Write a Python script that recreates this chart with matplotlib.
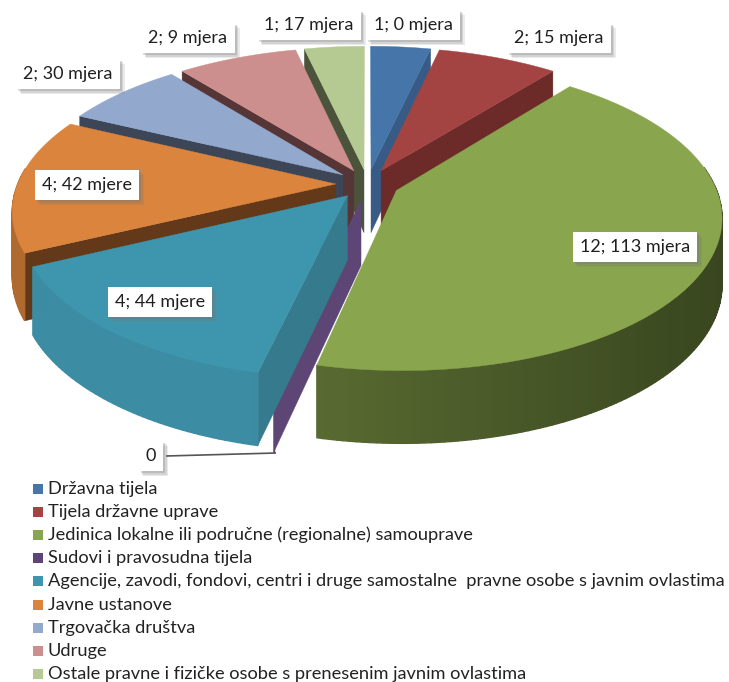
import numpy as np
import matplotlib
matplotlib.use('Agg')
import matplotlib.pyplot as plt
from matplotlib.colors import to_rgb
from matplotlib.patches import Polygon
import matplotlib.patheffects as pe

plt.rcParams['font.family'] = ['Lato', 'DejaVu Sans']

categories = ['Državna tijela', 'Tijela državne uprave',
              'Jedinica lokalne ili područne (regionalne) samouprave',
              'Sudovi i pravosudna tijela',
              'Agencije, zavodi, fondovi, centri i druge samostalne  pravne osobe s javnim ovlastima',
              'Javne ustanove', 'Trgovačka društva', 'Udruge',
              'Ostale pravne i fizičke osobe s prenesenim javnim ovlastima']
values = [1, 2, 12, 0, 4, 4, 2, 2, 1]
labels = ['1; 0 mjera', '2; 15 mjera', '12; 113 mjera', '0', '4; 44 mjere',
          '4; 42 mjere', '2; 30 mjera', '2; 9 mjera', '1; 17 mjera']
label_pos = [(413, 25), (559, 38), (635, 247), (151, 456), (160, 302),
             (87, 185), (68, 74), (188, 38), (309, 25)]
top_colors = ['#4675A9', '#A44442', '#89A54E', '#5D4676', '#3D96AE',
              '#DB843D', '#92A8CD', '#CD8F8D', '#B5CA92']
cut_colors = ['#375B85', '#6C2B29', '#4F5F2C', '#5D4676', '#357A8D',
              '#63391A', '#3C4657', '#553535', '#4B533A']
wall_left = ['#375B85', '#6C2B29', '#5E7034', '#5D4676', '#3C8CA3',
             '#B06A2F', '#6F83A3', '#A06E6C', '#8C9E70']
wall_right = ['#375B85', '#6C2B29', '#39461F', '#5D4676', '#295F70',
              '#8A5224', '#6F83A3', '#A06E6C', '#8C9E70']
draw_order = [0, 8, 1, 7, 6, 5, 2, 3, 4]

cx, cy = 367.5, 184
rx, ry = 318, 148
persp = 0.165
explode = 0.1
depth = 64


def proj(x, y, z=0):
    s = 1 / (1 - persp * y)
    d = depth * (1 + 0.8 * persp * y)
    return cx + rx * x * s, cy + ry * y * s + d * z


def rim(theta, off):
    return np.sin(theta) + off[0], -np.cos(theta) + off[1]


fig = plt.figure(figsize=(7.29, 6.82), dpi=100)
ax = fig.add_axes([0, 0, 1, 1])
ax.set_xlim(0, 729)
ax.set_ylim(682, 0)
ax.axis('off')

edges = np.radians(np.concatenate([[0], np.cumsum(values)]) / sum(values) * 360)

for i in draw_order:
    a0, a1 = edges[i], edges[i + 1]
    mid = (a0 + a1) / 2
    off = (explode * np.sin(mid), -explode * np.cos(mid))
    if values[i] == 0:
        off = (-0.02, explode * 1.1)
    thetas = np.linspace(a0, a1, max(int(np.degrees(a1 - a0)), 2))

    # cut faces that look towards the viewer
    for ang, visible in [(a0, -np.sin(a0) > 0), (a1, np.sin(a1) > 0)]:
        if visible:
            rx0, ry0 = rim(ang, off)
            pts = [proj(off[0], off[1]), proj(rx0, ry0), proj(rx0, ry0, 1), proj(off[0], off[1], 1)]
            ax.add_patch(Polygon(pts, closed=True, fc=cut_colors[i], ec=cut_colors[i], lw=0.3))

    # outer wall, shaded left to right
    left, right = np.array(to_rgb(wall_left[i])), np.array(to_rgb(wall_right[i]))
    for t0, t1 in zip(thetas[:-1], thetas[1:]):
        x0, y0 = rim(t0, off)
        x1, y1 = rim(t1, off)
        if y0 < -0.1 and y1 < -0.1:
            continue
        f = np.clip((proj(x0, y0)[0] - 250) / 470, 0, 1)
        col = left + (right - left) * f
        ax.add_patch(Polygon([proj(x0, y0), proj(x1, y1), proj(x1, y1, 1), proj(x0, y0, 1)],
                             closed=True, fc=col, ec=col, lw=1))

    # top face
    if values[i] > 0:
        pts = [proj(off[0], off[1])] + [proj(*rim(t, off)) for t in thetas]
        ax.add_patch(Polygon(pts, closed=True, fc=top_colors[i], ec=top_colors[i], lw=0.3))

# leader line for the empty slice
ax.plot([166, 276], [456, 453], color='#555555', lw=1.2, solid_capstyle='butt')

for txt, (lx, ly) in zip(labels, label_pos):
    t = ax.text(lx, ly, txt, ha='center', va='center', fontsize=13, color='#1F1F1F', zorder=10,
                bbox=dict(boxstyle='square,pad=0.4', fc='white', ec='none'))
    # stacked shadows to get a soft edge
    t.get_bbox_patch().set_path_effects([
        pe.SimplePatchShadow(offset=(3.5, -3.5), shadow_rgbFace='#777777', alpha=0.15),
        pe.SimplePatchShadow(offset=(2.5, -2.5), shadow_rgbFace='#777777', alpha=0.2),
        pe.SimplePatchShadow(offset=(1.5, -1.5), shadow_rgbFace='#777777', alpha=0.25),
        pe.Normal()])

legend_y = np.arange(len(categories)) * 23.1 + 489
for name, col, ly in zip(categories, top_colors, legend_y):
    ax.add_patch(plt.Rectangle((33, ly - 5), 10, 10, fc=col, ec='none'))
    ax.text(48, ly, name, ha='left', va='center', fontsize=13.15, color='#222222')

fig.savefig('out.png', dpi=100)
